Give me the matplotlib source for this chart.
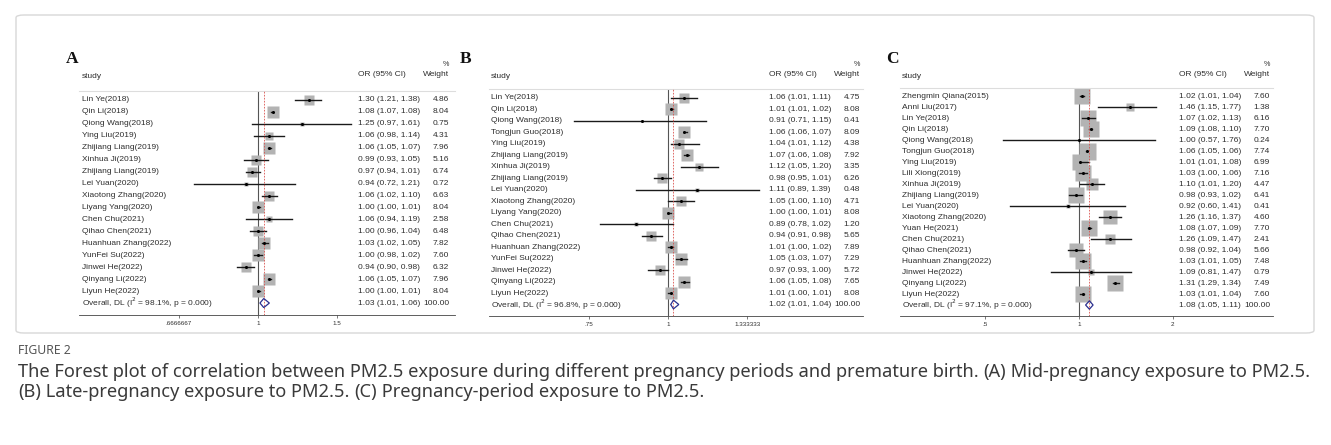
"""
Forest plots (A, B, C): PM2.5 exposure in pregnancy periods vs premature birth.
Output: out.png
"""
import matplotlib
matplotlib.use("Agg")
import matplotlib.pyplot as plt
import numpy as np
from matplotlib.patches import Polygon, FancyBboxPatch
import matplotlib.transforms as mtransforms

W, H = 1331, 445
DPI = 100

# ---- Panel A: mid-pregnancy ----
studies_a = ["Lin Ye(2018)", "Qin Li(2018)", "Qiong Wang(2018)", "Ying Liu(2019)",
             "Zhijiang Liang(2019)", "Xinhua Ji(2019)", "Zhijiang Liang(2019)",
             "Lei Yuan(2020)", "Xiaotong Zhang(2020)", "Liyang Yang(2020)",
             "Chen Chu(2021)", "Qihao Chen(2021)", "Huanhuan Zhang(2022)",
             "YunFei Su(2022)", "Jinwei He(2022)", "Qinyang Li(2022)", "Liyun He(2022)"]
or_a = [1.30, 1.08, 1.25, 1.06, 1.06, 0.99, 0.97, 0.94, 1.06, 1.00, 1.06, 1.00, 1.03, 1.00, 0.94, 1.06, 1.00]
lo_a = [1.21, 1.07, 0.97, 0.98, 1.05, 0.93, 0.94, 0.72, 1.02, 1.00, 0.94, 0.96, 1.02, 0.98, 0.90, 1.05, 1.00]
hi_a = [1.38, 1.08, 1.61, 1.14, 1.07, 1.05, 1.01, 1.21, 1.10, 1.01, 1.19, 1.04, 1.05, 1.02, 0.98, 1.07, 1.01]
wt_a = [4.86, 8.04, 0.75, 4.31, 7.96, 5.16, 6.74, 0.72, 6.63, 8.04, 2.58, 6.48, 7.82, 7.60, 6.32, 7.96, 8.04]
overall_a = [1.03, 1.01, 1.06]
i2_a = "98.1%"
ticks_a = [0.6666667, 1, 1.5]
ticklabels_a = [".6666667", "1", "1.5"]

# ---- Panel B: late pregnancy ----
studies_b = ["Lin Ye(2018)", "Qin Li(2018)", "Qiong Wang(2018)", "Tongjun Guo(2018)",
             "Ying Liu(2019)", "Zhijiang Liang(2019)", "Xinhua Ji(2019)",
             "Zhijiang Liang(2019)", "Lei Yuan(2020)", "Xiaotong Zhang(2020)",
             "Liyang Yang(2020)", "Chen Chu(2021)", "Qihao Chen(2021)",
             "Huanhuan Zhang(2022)", "YunFei Su(2022)", "Jinwei He(2022)",
             "Qinyang Li(2022)", "Liyun He(2022)"]
or_b = [1.06, 1.01, 0.91, 1.06, 1.04, 1.07, 1.12, 0.98, 1.11, 1.05, 1.00, 0.89, 0.94, 1.01, 1.05, 0.97, 1.06, 1.01]
lo_b = [1.01, 1.01, 0.71, 1.06, 1.01, 1.06, 1.05, 0.95, 0.89, 1.00, 1.00, 0.78, 0.91, 1.00, 1.03, 0.93, 1.05, 1.00]
hi_b = [1.11, 1.02, 1.15, 1.07, 1.12, 1.08, 1.20, 1.01, 1.39, 1.10, 1.01, 1.02, 0.98, 1.02, 1.07, 1.00, 1.08, 1.01]
wt_b = [4.75, 8.08, 0.41, 8.09, 4.38, 7.92, 3.35, 6.26, 0.48, 4.71, 8.08, 1.20, 5.65, 7.89, 7.29, 5.72, 7.65, 8.08]
overall_b = [1.02, 1.01, 1.04]
i2_b = "96.8%"
ticks_b = [0.75, 1, 1.333333]
ticklabels_b = [".75", "1", "1.333333"]

# ---- Panel C: whole pregnancy ----
studies_c = ["Zhengmin Qiana(2015)", "Anni Liu(2017)", "Lin Ye(2018)", "Qin Li(2018)",
             "Qiong Wang(2018)", "Tongjun Guo(2018)", "Ying Liu(2019)", "Lili Xiong(2019)",
             "Xinhua Ji(2019)", "Zhijiang Liang(2019)", "Lei Yuan(2020)",
             "Xiaotong Zhang(2020)", "Yuan He(2021)", "Chen Chu(2021)", "Qihao Chen(2021)",
             "Huanhuan Zhang(2022)", "Jinwei He(2022)", "Qinyang Li(2022)", "Liyun He(2022)"]
or_c = [1.02, 1.46, 1.07, 1.09, 1.00, 1.06, 1.01, 1.03, 1.10, 0.98, 0.92, 1.26, 1.08, 1.26, 0.98, 1.03, 1.09, 1.31, 1.03]
lo_c = [1.01, 1.15, 1.02, 1.08, 0.57, 1.05, 1.01, 1.00, 1.01, 0.93, 0.60, 1.16, 1.07, 1.09, 0.92, 1.01, 0.81, 1.29, 1.01]
hi_c = [1.04, 1.77, 1.13, 1.10, 1.76, 1.06, 1.08, 1.06, 1.20, 1.02, 1.41, 1.37, 1.09, 1.47, 1.04, 1.05, 1.47, 1.34, 1.04]
wt_c = [7.60, 1.38, 6.16, 7.70, 0.24, 7.74, 6.99, 7.16, 4.47, 6.41, 0.41, 4.60, 7.70, 2.41, 5.66, 7.48, 0.79, 7.49, 7.60]
overall_c = [1.08, 1.05, 1.11]
i2_c = "97.1%"
ticks_c = [0.5, 1, 2]
ticklabels_c = [".5", "1", "2"]

TXT = "#2e2e2e"
FONT = "Liberation Sans"
FS = 6.0

fig = plt.figure(figsize=(W / DPI, H / DPI), dpi=DPI)

# light frame around the figure area
frame = FancyBboxPatch((16 / W, 1 - 333 / H), 1298 / W, 318 / H,
                       boxstyle="round,pad=0,rounding_size=0.006",
                       transform=fig.transFigure, fill=False,
                       edgecolor="#d8d8d8", linewidth=1.0)
fig.patches.append(frame)


def draw_panel(letter, studies, ors, los, his, wts, overall, i2, ticks, ticklabels, g):
    n = len(studies) + 1
    ax = fig.add_axes([g["left"] / W, 1 - g["axis_y"] / H,
                       (g["right"] - g["left"]) / W, (g["axis_y"] - g["top"]) / H])
    ax.set_xscale("log")
    ax.set_xlim(np.exp((g["left"] - g["one"]) / g["ppl"]),
                np.exp((g["right"] - g["one"]) / g["ppl"]))
    ax.set_ylim(n, -0.75)
    for s in ("left", "right"):
        ax.spines[s].set_visible(False)
    ax.spines["top"].set_color("#dddddd")
    ax.spines["top"].set_linewidth(0.8)
    ax.spines["bottom"].set_color("#444444")
    ax.spines["bottom"].set_linewidth(0.6)
    ax.set_yticks([])
    ax.xaxis.set_minor_locator(matplotlib.ticker.NullLocator())
    ax.set_xticks(ticks)
    ax.set_xticklabels(ticklabels, fontsize=4.5, color=TXT, family=FONT)
    ax.tick_params(axis="x", length=2.5, width=0.5, pad=1.5, color="#444444")

    ax.axvline(1, color="#555555", lw=0.8, zorder=1)
    ax.axvline(overall[0], color="#d9534f", lw=0.6, ls=(0, (2, 1.6)), zorder=4)

    y = np.arange(len(studies))
    wmax = max(wts)
    sizes = g["box"] * np.sqrt(np.array(wts) / wmax) * 72 / DPI
    for yi, o, lo, hi, sz in zip(y, ors, los, his, sizes):
        ax.plot(o, yi, marker="s", ms=sz, color="#b3b3b3", mec="none", zorder=2)
        ax.plot([lo, hi], [yi, yi], color="#1a1a1a", lw=1.0, zorder=3)
        ax.plot(o, yi, marker="o", ms=2.2, color="black", mec="none", zorder=5)

    # overall diamond
    yo = len(studies)
    dh = 0.38
    dia = Polygon([(overall[1], yo), (overall[0], yo - dh), (overall[2], yo), (overall[0], yo + dh)],
                  closed=True, fill=False, edgecolor="#2b2f8f", lw=0.9, zorder=6)
    ax.add_patch(dia)

    span = g["right"] - g["left"]
    fx = lambda px: (px - g["left"]) / span
    tr = mtransforms.blended_transform_factory(ax.transAxes, ax.transData)
    rows = list(studies) + ["Overall, DL (I$^{2}$ = %s, p = 0.000)" % i2]
    ests = list(zip(ors, los, his)) + [tuple(overall)]
    wlist = list(wts) + [100.00]
    for i, (lab, (o, lo, hi), w) in enumerate(zip(rows, ests, wlist)):
        ax.text(fx(g["lab_x"]), i, lab, transform=tr, ha="left", va="center",
                fontsize=FS, color=TXT, family=FONT)
        ax.text(fx(g["or_x"]), i, "%.2f (%.2f, %.2f)" % (o, lo, hi), transform=tr,
                ha="left", va="center", fontsize=FS, color=TXT, family=FONT)
        ax.text(fx(g["wt_x"]), i, "%.2f" % w, transform=tr, ha="right", va="center",
                fontsize=FS, color=TXT, family=FONT)

    # headers (figure pixel coordinates)
    def ftext(px, py, s, **kw):
        fig.text(px / W, 1 - py / H, s, **kw)

    ftext(g["let_x"], 63, letter, fontsize=12.5, fontweight="bold",
          family="Liberation Serif", color="#111111", va="baseline")
    ftext(g["lab_x"], 76, "study", fontsize=FS, color=TXT, family=FONT, va="center")
    ftext(g["or_x"], 75, "OR (95% CI)", fontsize=FS, color=TXT, family=FONT, va="center")
    ftext(g["wt_x"], 75, "Weight", fontsize=FS, color=TXT, family=FONT, va="center", ha="right")
    ftext(g["wt_x"] - 3, 64, "%", fontsize=FS - 0.8, color=TXT, family=FONT, va="center", ha="center")
    return ax


geom_a = dict(left=79, right=455, one=258, ppl=195, top=91, axis_y=315, box=12.0,
              lab_x=82, or_x=358, wt_x=449, let_x=66)
geom_b = dict(left=489, right=863, one=668, ppl=275, top=89, axis_y=316, box=12.5,
              lab_x=491, or_x=769, wt_x=860, let_x=460)
geom_c = dict(left=900, right=1273, one=1079, ppl=135, top=88, axis_y=316, box=17.0,
              lab_x=902, or_x=1179, wt_x=1270, let_x=886)

draw_panel("A", studies_a, or_a, lo_a, hi_a, wt_a, overall_a, i2_a, ticks_a, ticklabels_a, geom_a)
draw_panel("B", studies_b, or_b, lo_b, hi_b, wt_b, overall_b, i2_b, ticks_b, ticklabels_b, geom_b)
draw_panel("C", studies_c, or_c, lo_c, hi_c, wt_c, overall_c, i2_c, ticks_c, ticklabels_c, geom_c)

# ---- caption ----
CAP = "Noto Sans"
CAP_FS = 13.15
CAP_COL = "#3a3a3a"
fig.text(18 / W, 1 - 354 / H, "FIGURE 2", fontsize=8.8, color="#555555", family=CAP, va="baseline")

caption_lines = [
    [("The Forest plot of correlation between PM2.5 exposure during different pregnancy periods and premature birth. ", "normal"),
     ("(A)", "bold"), (" Mid-pregnancy exposure to PM2.5.", "normal")],
    [("(B)", "bold"), (" Late-pregnancy exposure to PM2.5. ", "normal"),
     ("(C)", "bold"), (" Pregnancy-period exposure to PM2.5.", "normal")],
]
caption_y = [377, 397]

renderer = fig.canvas.get_renderer()
for parts, py in zip(caption_lines, caption_y):
    x = 18
    for s, wgt in parts:
        t = fig.text(x / W, 1 - py / H, s, fontsize=CAP_FS, color=CAP_COL,
                     family=CAP, fontweight=wgt, va="baseline")
        bb = t.get_window_extent(renderer=renderer)
        x += bb.width

fig.savefig("out.png", dpi=DPI)
plt.close(fig)
print("Saved out.png")
